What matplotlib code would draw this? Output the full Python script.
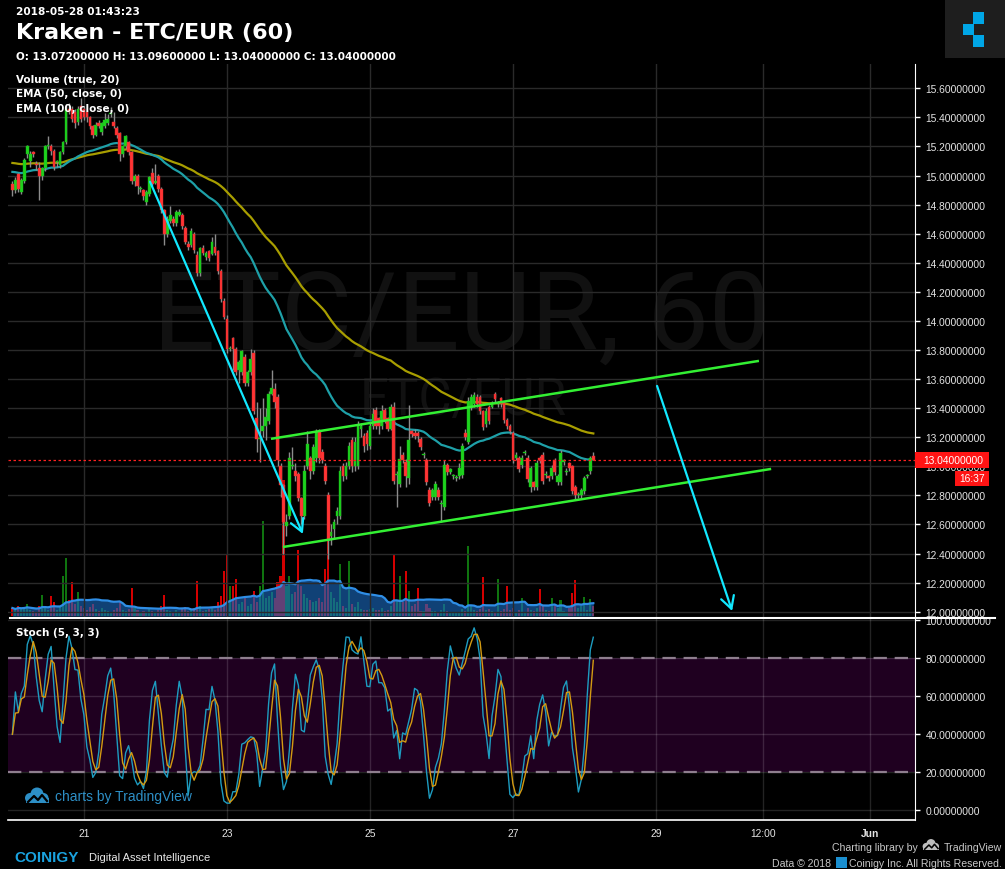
import numpy as np
import pandas as pd
import matplotlib
matplotlib.use('Agg')
import matplotlib.pyplot as plt
from matplotlib.patches import Rectangle, Circle
from matplotlib.lines import Line2D
from matplotlib.transforms import IdentityTransform

plt.rcParams['font.family'] = ['Liberation Sans', 'DejaVu Sans']

# ---------------- data (hourly candles, ETC/EUR, Kraken) ----------------
opens = [14.94, 14.90, 15.01, 14.89, 14.96, 15.15, 15.10, 15.16, 15.08, 15.05,
         15.00, 15.05, 15.20, 15.20, 15.17, 15.09, 15.07, 15.16, 15.23, 15.46,
         15.46, 15.44, 15.37, 15.48, 15.46, 15.44, 15.40, 15.34, 15.28, 15.36,
         15.30, 15.34, 15.36, 15.42, 15.37, 15.33, 15.29, 15.15, 15.20, 15.23,
         15.16, 14.96, 15.00, 14.91, 14.90, 14.82, 14.87, 15.02, 14.95, 15.00,
         14.91, 14.76, 14.60, 14.69, 14.70, 14.67, 14.73, 14.73, 14.64, 14.53,
         14.52, 14.60, 14.45, 14.33, 14.50, 14.44, 14.48, 14.46, 14.51, 14.48,
         14.34, 14.14, 14.01, 13.81, 13.88, 13.81, 13.66, 13.65, 13.75, 13.57,
         13.65, 13.78, 13.33, 13.19, 13.24, 13.28, 13.31, 13.50, 13.53, 13.48,
         13.00, 12.87, 12.59, 12.66, 13.00, 12.97, 12.95, 12.78, 12.66, 13.00,
         13.06, 12.97, 13.06, 13.24, 13.10, 13.00, 12.80, 12.52, 12.57, 12.66,
         12.66, 13.00, 12.93, 13.00, 13.18, 13.00, 13.00, 13.26, 13.21, 13.23,
         13.14, 13.28, 13.39, 13.33, 13.28, 13.39, 13.33, 13.26, 13.41, 12.94,
         12.88, 13.08, 13.03, 12.92, 13.24, 13.23, 13.23, 13.19, 13.08, 13.04,
         12.84, 12.79, 12.79, 12.84, 12.74, 12.72, 13.01, 12.96, 12.93, 12.92,
         12.93, 12.94, 13.23, 13.17, 13.41, 13.43, 13.48, 13.48, 13.38, 13.29,
         13.41, 13.41, 13.50, 13.43, 13.47, 13.44, 13.32, 13.28, 13.23, 13.06,
         13.06, 13.01, 13.09, 13.06, 12.86, 12.89, 12.86, 13.06, 13.08, 12.94,
         12.93, 12.93, 13.04, 12.89, 12.89, 13.03, 12.96, 13.02, 13.00, 12.86,
         12.80, 12.80, 12.83, 12.93, 12.97, 13.072]
highs = [14.96, 14.99, 15.02, 14.98, 15.12, 15.21, 15.17, 15.17, 15.10, 15.09,
         15.06, 15.21, 15.27, 15.22, 15.18, 15.11, 15.17, 15.24, 15.49, 15.50,
         15.48, 15.46, 15.48, 15.53, 15.47, 15.45, 15.41, 15.35, 15.37, 15.38,
         15.37, 15.43, 15.42, 15.47, 15.44, 15.34, 15.30, 15.21, 15.28, 15.24,
         15.17, 15.01, 15.01, 14.93, 14.91, 14.90, 15.00, 15.05, 15.08, 15.01,
         14.92, 14.77, 14.72, 14.79, 14.72, 14.76, 14.77, 14.74, 14.65, 14.55,
         14.64, 14.61, 14.48, 14.51, 14.52, 14.48, 14.49, 14.58, 14.60, 14.49,
         14.36, 14.16, 14.04, 13.83, 13.89, 13.82, 13.73, 13.80, 13.77, 13.66,
         13.81, 13.80, 13.44, 13.40, 13.47, 13.40, 13.52, 13.66, 13.57, 13.50,
         13.02, 12.88, 12.67, 13.10, 13.13, 13.02, 12.96, 12.79, 13.01, 13.24,
         13.07, 13.15, 13.26, 13.26, 13.12, 13.02, 12.82, 12.60, 12.64, 12.72,
         13.00, 13.02, 13.03, 13.17, 13.20, 13.20, 13.31, 13.30, 13.23, 13.25,
         13.30, 13.40, 13.41, 13.34, 13.42, 13.40, 13.34, 13.43, 13.44, 12.97,
         13.14, 13.10, 13.05, 13.42, 13.25, 13.26, 13.24, 13.20, 13.10, 13.06,
         12.86, 12.85, 12.90, 12.86, 12.77, 13.04, 13.02, 12.99, 12.95, 12.94,
         13.02, 13.16, 13.26, 13.48, 13.50, 13.51, 13.50, 13.49, 13.39, 13.40,
         13.42, 13.45, 13.51, 13.45, 13.48, 13.45, 13.33, 13.29, 13.24, 13.10,
         13.07, 13.08, 13.11, 13.08, 13.00, 12.90, 13.04, 13.07, 13.10, 12.97,
         12.94, 13.01, 13.06, 12.95, 13.11, 13.05, 12.99, 13.03, 13.01, 12.87,
         12.82, 12.85, 12.93, 12.95, 13.07, 13.096]
lows = [14.86, 14.88, 14.89, 14.87, 14.95, 15.12, 15.06, 15.13, 15.04, 14.83,
        14.97, 15.03, 15.18, 15.14, 15.04, 15.06, 15.05, 15.15, 15.22, 15.42,
        15.37, 15.33, 15.35, 15.37, 15.38, 15.37, 15.32, 15.26, 15.27, 15.33,
        15.28, 15.33, 15.35, 15.40, 15.33, 15.26, 15.10, 15.13, 15.18, 15.14,
        14.94, 14.93, 14.87, 14.89, 14.83, 14.80, 14.86, 14.93, 14.94, 14.89,
        14.74, 14.52, 14.58, 14.67, 14.65, 14.65, 14.72, 14.63, 14.53, 14.49,
        14.51, 14.47, 14.31, 14.31, 14.45, 14.42, 14.41, 14.45, 14.45, 14.32,
        14.13, 14.01, 13.78, 13.79, 13.66, 13.63, 13.57, 13.63, 13.55, 13.55,
        13.63, 13.36, 13.10, 13.03, 13.20, 13.18, 13.29, 13.49, 13.40, 13.00,
        12.79, 12.40, 12.52, 12.64, 12.98, 12.90, 12.76, 12.60, 12.64, 12.98,
        12.91, 12.95, 13.03, 13.02, 13.02, 12.88, 12.36, 12.46, 12.50, 12.60,
        12.64, 12.90, 12.91, 12.98, 12.96, 12.97, 12.98, 13.20, 13.10, 13.11,
        13.12, 13.26, 13.26, 13.22, 13.26, 13.30, 13.24, 13.25, 12.88, 12.72,
        12.86, 13.02, 12.86, 12.88, 13.20, 13.19, 13.17, 13.11, 13.06, 12.87,
        12.73, 12.77, 12.77, 12.77, 12.62, 12.70, 12.94, 12.95, 12.91, 12.90,
        12.91, 12.92, 13.18, 13.15, 13.39, 13.41, 13.41, 13.36, 13.25, 13.27,
        13.29, 13.40, 13.44, 13.41, 13.41, 13.30, 13.26, 13.22, 13.02, 13.04,
        12.96, 12.99, 13.08, 12.89, 12.82, 12.84, 12.84, 13.02, 12.88, 12.92,
        12.90, 12.91, 12.94, 12.87, 12.87, 13.01, 12.94, 12.97, 12.81, 12.77,
        12.78, 12.78, 12.81, 12.92, 12.95, 13.04]
closes = [14.90, 14.97, 14.91, 14.97, 15.11, 15.20, 15.15, 15.15, 15.07, 15.00,
          15.05, 15.20, 15.20, 15.17, 15.06, 15.09, 15.16, 15.23, 15.46, 15.44,
          15.39, 15.36, 15.46, 15.39, 15.40, 15.40, 15.34, 15.28, 15.35, 15.34,
          15.36, 15.38, 15.39, 15.43, 15.34, 15.28, 15.15, 15.20, 15.27, 15.16,
          14.96, 15.00, 14.93, 14.91, 14.86, 14.89, 14.99, 14.94, 14.96, 14.91,
          14.76, 14.60, 14.70, 14.73, 14.67, 14.75, 14.75, 14.65, 14.54, 14.51,
          14.62, 14.49, 14.33, 14.50, 14.47, 14.47, 14.43, 14.54, 14.47, 14.34,
          14.15, 14.03, 13.81, 13.81, 13.81, 13.65, 13.72, 13.79, 13.57, 13.65,
          13.74, 13.38, 13.19, 13.19, 13.28, 13.34, 13.50, 13.54, 13.44, 13.04,
          12.87, 12.62, 12.62, 13.06, 13.00, 12.93, 12.78, 12.66, 12.97, 13.15,
          12.97, 13.13, 13.24, 13.06, 13.04, 12.90, 12.49, 12.55, 12.62, 12.69,
          12.97, 12.93, 13.00, 13.14, 13.00, 13.17, 13.28, 13.28, 13.14, 13.15,
          13.28, 13.36, 13.28, 13.28, 13.38, 13.32, 13.26, 13.41, 12.90, 12.95,
          13.05, 13.04, 12.93, 13.18, 13.22, 13.21, 13.21, 13.13, 13.08, 12.89,
          12.75, 12.84, 12.88, 12.79, 12.75, 13.01, 12.96, 12.98, 12.93, 12.92,
          12.99, 13.14, 13.20, 13.45, 13.48, 13.49, 13.43, 13.38, 13.27, 13.38,
          13.31, 13.43, 13.46, 13.43, 13.43, 13.32, 13.28, 13.24, 13.04, 13.08,
          12.98, 13.06, 13.10, 12.91, 12.99, 12.86, 13.02, 13.04, 12.90, 12.95,
          12.92, 12.99, 12.96, 12.93, 13.09, 13.04, 12.97, 12.99, 12.83, 12.80,
          12.80, 12.84, 12.92, 12.94, 13.06, 13.04]
volumes = [8, 6, 10, 7, 9, 12, 6, 5, 4, 10,
           21, 9, 6, 20, 14, 6, 9, 40, 58, 16,
           34, 12, 24, 10, 8, 6, 9, 12, 7, 5,
           8, 6, 5, 4, 6, 8, 14, 6, 5, 7,
           28, 8, 6, 4, 5, 4, 7, 5, 4, 6,
           10, 21, 6, 5, 4, 6, 4, 7, 9, 5,
           6, 8, 35, 10, 5, 6, 7, 9, 6, 14,
           20, 45, 62, 30, 30, 37, 12, 14, 18, 10,
           12, 25, 14, 30, 95, 18, 20, 24, 18, 34,
           40, 136, 30, 40, 22, 24, 66, 30, 22, 18,
           16, 14, 15, 18, 14, 47, 80, 24, 18, 14,
           52, 10, 8, 55, 12, 9, 14, 7, 6, 6,
           7, 8, 6, 6, 8, 5, 6, 10, 62, 16,
           40, 14, 45, 25, 10, 12, 28, 5, 5, 12,
           8, 5, 5, 4, 6, 12, 5, 4, 3, 3,
           4, 7, 5, 70, 10, 6, 5, 7, 39, 6,
           7, 5, 4, 37, 5, 7, 30, 6, 8, 4,
           6, 18, 4, 8, 6, 5, 8, 27, 10, 6,
           5, 18, 12, 8, 16, 5, 4, 8, 23, 36,
           8, 10, 19, 6, 17, 10]
ema50_start = 15.03
ema100_start = 15.09

date_tick_hours = [24, 72, 120, 168, 216, 252, 288]   # hours after May 20 00:00
date_tick_labels = ['21', '23', '25', '27', '29', '12:00', 'Jun']
price_ticks = [12.0, 12.2, 12.4, 12.6, 12.8, 13.0, 13.2, 13.4, 13.6, 13.8,
               14.0, 14.2, 14.4, 14.6, 14.8, 15.0, 15.2, 15.4, 15.6]
stoch_ticks = [0, 20, 40, 60, 80, 100]

# user drawings: (hour, price)
arrow1_t = [46.2, 97.5];   arrow1_p = [14.957, 12.535]
arrow2_t = [216.4, 241.6]; arrow2_p = [13.553, 12.005]
upper_t = [86.8, 250.6];   upper_p = [13.189, 13.725]
lower_t = [90.8, 254.7];   lower_p = [12.445, 12.982]

# ---------------- indicators ----------------
o = np.array(opens); c = np.array(closes); hi = np.array(highs); lo = np.array(lows)
vol = np.array(volumes, dtype=float)
hours = np.arange(len(c))

def ema(vals, span, start):
    a = 2.0 / (span + 1)
    out, prev = [], start
    for v in vals:
        prev = a * v + (1 - a) * prev
        out.append(prev)
    return np.array(out)

ema50 = ema(c, 50, ema50_start)
ema100 = ema(c, 100, ema100_start)
vma = pd.Series(vol).rolling(20, min_periods=1).mean().values
ll = pd.Series(lo).rolling(5, min_periods=1).min()
hh = pd.Series(hi).rolling(5, min_periods=1).max()
raw = 100 * (pd.Series(c) - ll) / (hh - ll)
k = raw.rolling(3, min_periods=1).mean()
d = k.rolling(3, min_periods=1).mean()

# ---------------- figure ----------------
W, H = 1005, 870
fig = plt.figure(figsize=(W / 100, H / 100), dpi=100, facecolor='black')
ID = IdentityTransform()

PL, PR = 8, 915
P_TOP, P_BOT = 65, 618
S_TOP, S_BOT = 619, 821
XL = (PL - 12.4) / 2.979
XR = (PR - 12.4) / 2.979
PY0, PY1 = 11.9636, 15.7669
SY0, SY1 = -5.1, 101.2

axv = fig.add_axes([PL / W, 1 - P_BOT / H, (PR - PL) / W, (P_BOT - P_TOP) / H])
ax = fig.add_axes([PL / W, 1 - P_BOT / H, (PR - PL) / W, (P_BOT - P_TOP) / H])
axs = fig.add_axes([PL / W, 1 - S_BOT / H, (PR - PL) / W, (S_BOT - S_TOP) / H])
ax.patch.set_visible(False)
for a in (axv, axs):
    a.set_facecolor('black')

for a in (ax, axv, axs):
    a.set_xlim(XL, XR)
    for s in a.spines.values():
        s.set_visible(False)

# --- volume layer (bottom) ---
axv.set_ylim(-1, 552)
axv.set_xticks([]); axv.set_yticks([])
axv.text((462 - PL) / (PR - PL), (P_BOT - 350) / (P_BOT - P_TOP), 'ETC/EUR, 60',
         transform=axv.transAxes, ha='center', va='baseline', fontsize=79,
         family='Roboto', color='#111111', zorder=0)
axv.text((463 - PL) / (PR - PL), (P_BOT - 415) / (P_BOT - P_TOP), 'ETC/EUR',
         transform=axv.transAxes, ha='center', va='baseline', fontsize=36.7,
         family='Roboto', color='#111111', zorder=0)
up = c >= o
axv.bar(hours[up], vol[up], width=0.7, color='#0f740f', lw=0, zorder=2)
axv.bar(hours[~up], vol[~up], width=0.7, color='#d40000', lw=0, zorder=2)
axv.fill_between(hours, 0, vma, color='#1a6ac0', alpha=0.62, lw=0, zorder=3)
axv.plot(hours, vma, color='#2f8ee6', lw=1.6, zorder=4)

# --- price layer ---
ax.set_ylim(PY0, PY1)
ax.set_yticks(price_ticks)
ax.set_yticklabels([f'{v:.8f}' for v in price_ticks])
ax.set_xticks(date_tick_hours)
ax.grid(True, color='#2a2a2a', lw=1, zorder=0)
ax.tick_params(axis='x', bottom=False, labelbottom=False)
ax.tick_params(axis='y', left=False, labelleft=False, right=True, labelright=True,
               colors='white', length=3.5, width=1, labelsize=7.4,
               labelcolor='#e4e4e4', pad=4)
ax.spines['right'].set_visible(True)
ax.spines['right'].set_color('white')

ax.plot(hours, ema100, color='#a89e00', lw=1.6, zorder=2)
ax.plot(hours, ema50, color='#1ea0a8', lw=1.6, zorder=2)

body_lo = np.minimum(o, c)
body_h = np.maximum(np.abs(c - o), 0.007)
ax.vlines(hours, lo, hi, color='#8c8c8c', lw=1.0, zorder=3)
ax.bar(hours[up], body_h[up], bottom=body_lo[up], width=0.9,
       color='#1ed21e', edgecolor='#18b818', lw=0.3, zorder=4)
ax.bar(hours[~up], body_h[~up], bottom=body_lo[~up], width=0.9,
       color='#ff3535', edgecolor='#e02a2a', lw=0.3, zorder=4)

ax.axhline(c[-1], color='#ff2020', lw=0.9, ls=(0, (2, 2)), zorder=5)

ax.plot(upper_t, upper_p, color='#33f033', lw=1.8, zorder=6, solid_capstyle='butt')
ax.plot(lower_t, lower_p, color='#33f033', lw=1.8, zorder=6, solid_capstyle='butt')
for tt, pp in ((arrow1_t, arrow1_p), (arrow2_t, arrow2_p)):
    ax.annotate('', xy=(tt[1], pp[1]), xytext=(tt[0], pp[0]),
                arrowprops=dict(arrowstyle='->,head_length=0.55,head_width=0.3',
                                color='#12e8ff', lw=1.6, mutation_scale=16,
                                shrinkA=0, shrinkB=0), zorder=7)

# --- stochastic pane ---
axs.set_ylim(SY0, SY1)
axs.axhspan(20, 80, color='#1f0020', lw=0, zorder=0)
axs.set_yticks(stoch_ticks)
axs.set_yticklabels([f'{v:.8f}' for v in stoch_ticks])
axs.set_xticks(date_tick_hours)
axs.set_xticklabels(date_tick_labels)
axs.grid(True, color='white', alpha=0.14, lw=1, zorder=1)
for lev in (20, 80):
    axs.axhline(lev, color='#8e7e8e', lw=1.6, ls=(0, (6, 3.5)), zorder=2)
axs.plot(hours, k.values, color='#1d9cc0', lw=1.0, zorder=3)
axs.plot(hours, d.values, color='#d39a12', lw=1.0, zorder=3)
axs.tick_params(axis='y', left=False, labelleft=False, right=True, labelright=True,
                colors='white', length=3.5, width=1, labelsize=7.4,
                labelcolor='#e4e4e4', pad=4)
axs.tick_params(axis='x', length=0, labelsize=7.4, labelcolor='#e4e4e4', pad=6)
for lab in axs.get_xticklabels():
    if lab.get_text() == 'Jun':
        lab.set_fontweight('bold')
axs.spines['right'].set_visible(True)
axs.spines['right'].set_color('white')
axs.spines['bottom'].set_visible(True)
axs.spines['bottom'].set_color('white')
axs.spines['bottom'].set_linewidth(1.2)

# separator between panes
fig.add_artist(Line2D([10, 995], [H - 618.5, H - 618.5], transform=ID,
                      color='white', lw=1.5, zorder=4))

# ---------------- helpers for pixel placement ----------------
def T(px, py, s, **kw):
    return fig.text(px / W, 1 - py / H, s, **kw)

def R(x0, y0, x1, y1, color, z=5):
    fig.add_artist(Rectangle((x0, H - y1), x1 - x0, y1 - y0, transform=ID,
                             facecolor=color, edgecolor='none', lw=0, zorder=z))

def price_py(p):
    return P_TOP + (PY1 - p) / (PY1 - PY0) * (P_BOT - P_TOP)

# last price label
lp = price_py(c[-1])
R(915, lp - 8, 989, lp + 7.5, '#ff1414', z=6)
T(923, lp, f'{c[-1]:.8f}', fontsize=7.4, color='white', va='center', ha='left', zorder=7)
R(955, lp + 10.5, 989, lp + 25.5, '#ff1414', z=6)
T(985, lp + 18, '16:37', fontsize=7.4, color='white', va='center', ha='right', zorder=7)

# ---------------- header texts ----------------
hdr = dict(family='DejaVu Sans', fontweight='bold', color='white', va='baseline', zorder=8)
T(16, 15, '2018-05-28 01:43:23', fontsize=7.6, **hdr)
T(16, 39, 'Kraken - ETC/EUR (60)', fontsize=16, **hdr)
T(16, 60, 'O: 13.07200000 H: 13.09600000 L: 13.04000000 C: 13.04000000', fontsize=7.5, **hdr)
T(16, 83, 'Volume (true, 20)', fontsize=7.5, **hdr)
T(16, 97, 'EMA (50, close, 0)', fontsize=7.5, **hdr)
T(16, 111.5, 'EMA (100, close, 0)', fontsize=7.5, **hdr)
T(16, 636.5, 'Stoch (5, 3, 3)', fontsize=7.5, **hdr)

# Coinigy logo (top right)
R(945, 0, 1005, 59, '#1e1e1e', z=5)
for (x0, y0) in ((973, 13), (963, 24.5), (973, 36)):
    R(x0, y0, x0 + 11, y0 + 11.5, '#00a6e6', z=6)

# TradingView watermark in stoch pane
def cloud(cx, cy, s, color, bg):
    for (dx, dy, r) in ((-7, 2, 5), (0, -2, 6.5), (6.5, 2, 5)):
        fig.add_artist(Circle((cx + dx * s, H - (cy + dy * s)), r * s, transform=ID,
                              facecolor=color, edgecolor='none', zorder=8))
    R(cx - 11 * s, cy + 2 * s, cx + 11.5 * s, cy + 7 * s, color, z=8)
    fig.add_artist(Line2D([cx - 9 * s, cx - 3 * s, cx + 1 * s, cx + 5 * s, cx + 10 * s],
                          [H - (cy + 6 * s), H - (cy + 0 * s), H - (cy + 4 * s),
                           H - (cy - 1 * s), H - (cy + 5 * s)],
                          transform=ID, color=bg, lw=1.6 * s, zorder=9))

cloud(37, 797, 1.0, '#2d8fc6', 'black')
T(55, 797, 'charts by TradingView', fontsize=10, color='#2d8fc6', va='center', ha='left', zorder=8)

# ---------------- footer ----------------
T(14, 862, 'COINIGY', fontsize=11, fontweight='bold', color='#1aa3e0', va='baseline', zorder=8)
T(89, 861, 'Digital Asset Intelligence', fontsize=8, color='#e8e8e8', va='baseline', zorder=8)
T(918, 851, 'Charting library by', fontsize=7.6, color='#c8c8c8', va='baseline', ha='right', zorder=8)
cloud(931, 846, 0.7, '#bdbdbd', 'black')
T(1002, 851, 'TradingView', fontsize=7.6, color='#c8c8c8', va='baseline', ha='right', zorder=8)
T(831, 867, 'Data © 2018', fontsize=7.6, color='#c8c8c8', va='baseline', ha='right', zorder=8)
R(836, 858, 847, 869, '#1a8fd0', z=8)
T(1002, 867, 'Coinigy Inc. All Rights Reserved.', fontsize=7.6, color='#c8c8c8',
  va='baseline', ha='right', zorder=8)

fig.savefig('out.png', dpi=100, facecolor='black')
